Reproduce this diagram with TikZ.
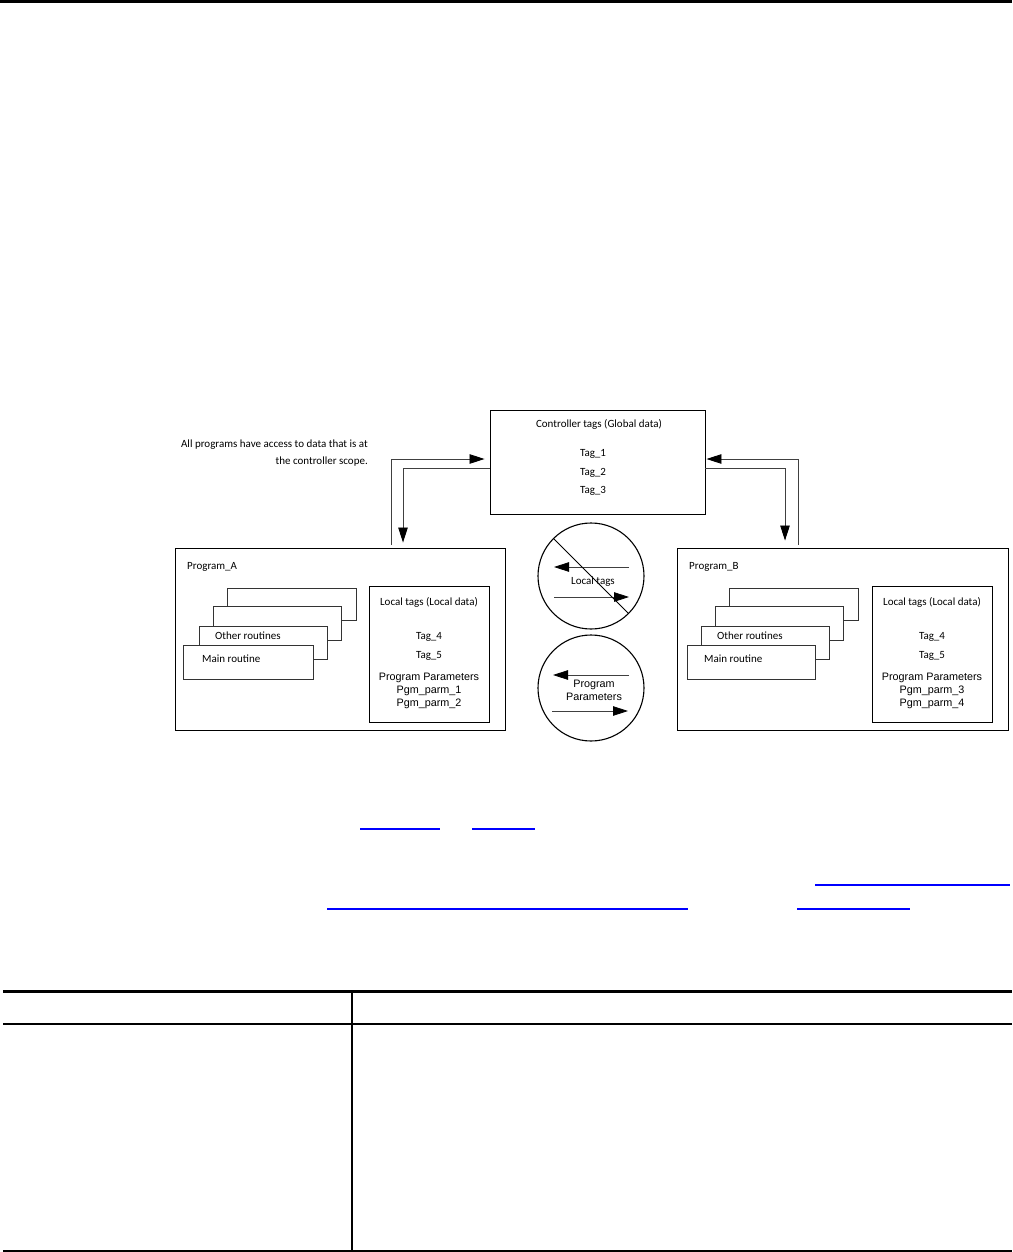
\documentclass[tikz,border=0pt]{standalone}
\usepackage{fontspec}
\usepackage{xcolor}
\usepackage{tikz}
\usetikzlibrary{arrows.meta, positioning, calc}
\newfontfamily\myriad{Carlito}
\newfontfamily\arialfont{Liberation Sans}
\definecolor{linkblue}{HTML}{0000FF}

\begin{document}
\begin{tikzpicture}[x=1pt, y=-1pt,
  box/.style={draw=black, line width=0.9pt, fill=white, inner sep=0pt},
  rtn/.style={draw=black!80, line width=0.7pt, fill=white},
  lbl/.style={font=\myriad\fontsize{11}{12}\selectfont, inner sep=0pt},
  prm/.style={font=\arialfont\fontsize{10.8}{13}\selectfont, inner sep=0pt, align=center},
  conn/.style={draw=black!75, line width=0.8pt},
  tip/.style={-{Triangle[length=15pt, width=9.5pt, color=black, fill=black]}},
  ring/.style={circle, draw=black, line width=1.1pt, minimum size=106pt, inner sep=0pt},
  link/.style={linkblue, line width=2pt}]
\useasboundingbox (0,0) rectangle (1012,1252);
\fill[white] (0,0) rectangle (1012,1252);
\fill[black] (0,0) rectangle (1012,3);
% controller scope
\node[box, minimum width=215pt, minimum height=104pt] (ctrl) at (597.5,462) {};
\node[lbl] (ctrltitle) at (599,424) {Controller tags (Global data)};
\node[lbl, font=\myriad\fontsize{11}{18.5}\selectfont, align=center] (ctrltags) at (593,472.5) {Tag\_1\\Tag\_2\\Tag\_3};
\node[lbl, font=\myriad\fontsize{11}{17}\selectfont, align=right, anchor=east] (scopenote) at (368,453.5)
  {All programs have access to data that is at\\the controller scope.};
% Program_A
\node[box, minimum width=330pt, minimum height=182pt] (progA) at (340,639) {};
\node[lbl, anchor=west] (progAname) at (187,567) {Program\_A};
\draw[rtn] (227,588) rectangle (356,620);
\draw[rtn] (213,606) rectangle (341,640);
\draw[rtn] (199,626) rectangle (327,659);
\draw[rtn] (183,645) rectangle (313,679);
\node[lbl, anchor=west] (otherA) at (215,636) {Other routines};
\node[lbl, anchor=west] (mainA) at (202,659) {Main routine};
\node[box, minimum width=120pt, minimum height=136pt] (localA) at (429,654) {};
\node[lbl] (localAtitle) at (429,602) {Local tags (Local data)};
\node[lbl] (tag4A) at (429,637) {Tag\_4};
\node[lbl] (tag5A) at (429,656) {Tag\_5};
\node[prm] (parmA) at (429,691) {Program Parameters\\Pgm\_parm\_1\\Pgm\_parm\_2};
% Program_B
\node[box, minimum width=331pt, minimum height=182pt] (progB) at (842.5,639) {};
\node[lbl, anchor=west] (progBname) at (689,567) {Program\_B};
\draw[rtn] (729,588) rectangle (858,620);
\draw[rtn] (715,606) rectangle (843,640);
\draw[rtn] (701,626) rectangle (829,659);
\draw[rtn] (687,645) rectangle (815,679);
\node[lbl, anchor=west] (otherB) at (717,636) {Other routines};
\node[lbl, anchor=west] (mainB) at (704,659) {Main routine};
\node[box, minimum width=120pt, minimum height=136pt] (localB) at (932,654) {};
\node[lbl] (localBtitle) at (932,602) {Local tags (Local data)};
\node[lbl] (tag4B) at (932,637) {Tag\_4};
\node[lbl] (tag5B) at (932,656) {Tag\_5};
\node[prm] (parmB) at (932,691) {Program Parameters\\Pgm\_parm\_3\\Pgm\_parm\_4};
% access to controller scope
\draw[conn, tip, shorten <=3pt, shorten >=5pt] (progA.north -| 391,0) |- ([yshift=3pt]ctrl.west);
\draw[conn, tip, shorten >=5pt] ([yshift=-6pt]ctrl.west) -| (progA.north -| 403,0);
\draw[conn, tip, shorten <=3pt, shorten >=1pt] (progB.north -| 798,0) |- ([yshift=3pt]ctrl.east);
\draw[conn, tip, shorten >=7pt] ([yshift=-6pt]ctrl.east) -| (progB.north -| 785,0);
% no local tags between programs
\node[ring] (ringlocal) at (591,576) {};
\node[lbl] (ringlocaltxt) at (593,582) {Local tags};
\draw[conn, tip] ([shift={(38pt,9pt)}]ringlocal.center) -- ([shift={(-37pt,9pt)}]ringlocal.center);
\draw[conn, tip] ([shift={(-37pt,-21pt)}]ringlocal.center) -- ([shift={(38pt,-21pt)}]ringlocal.center);
\draw[line width=0.8pt] (ringlocal.135) -- (ringlocal.-45);
% program parameters between programs
\node[ring] (ringparm) at (591,688) {};
\node[prm] (ringparmtxt) at (594,690.5) {Program\\Parameters};
\draw[conn, tip] ([shift={(38pt,13pt)}]ringparm.center) -- ([shift={(-38pt,13pt)}]ringparm.center);
\draw[conn, tip] ([shift={(-39pt,-23pt)}]ringparm.center) -- ([shift={(37pt,-23pt)}]ringparm.center);
% links
\draw[link] (360,829) -- (440,829);
\draw[link] (472,829) -- (535,829);
\draw[link] (815,885) -- (1010,885);
\draw[link] (327,909) -- (688,909);
\draw[link] (797,909) -- (910,909);
% table rules
\draw[line width=3pt] (3,991) -- (1012,991);
\draw[line width=1.5pt] (3,1024) -- (1012,1024);
\draw[line width=1.5pt] (3,1251) -- (1012,1251);
\draw[line width=1.2pt] (352,991) -- (352,1251);
\end{tikzpicture}
\end{document}
